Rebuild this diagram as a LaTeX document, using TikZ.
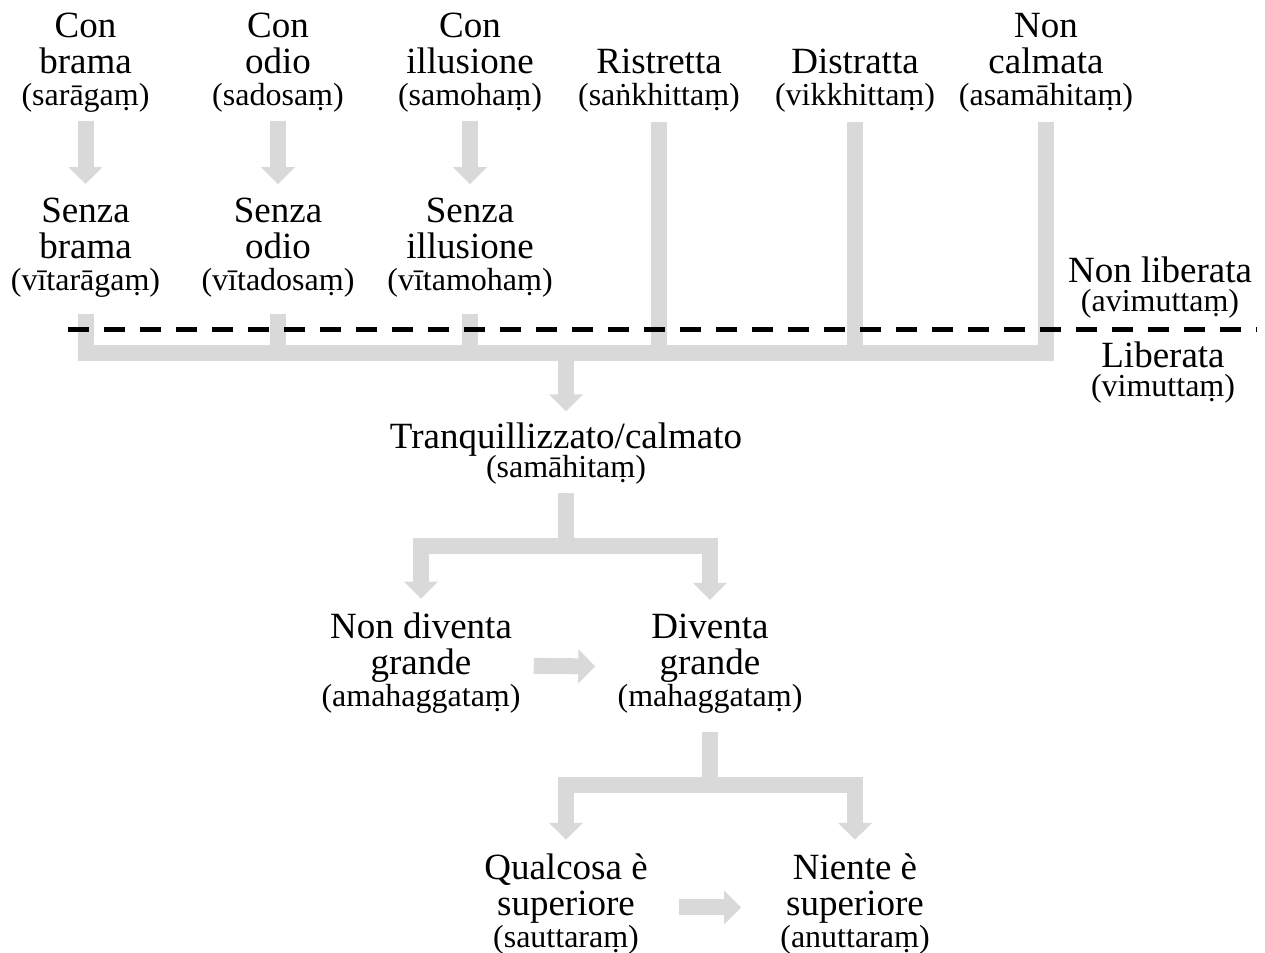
\documentclass[tikz,border=0pt]{standalone}
\usepackage{fontspec}
\setmainfont{Liberation Serif}
\usepackage{tikz}
\usetikzlibrary{arrows.meta}
\definecolor{bandgray}{HTML}{D9D9D9}
\newcommand{\pali}[1]{{\fontsize{24pt}{27pt}\selectfont (#1)}}

\begin{document}
\begin{tikzpicture}[
      x=0.75pt, y=-0.75pt,
      txt/.style={align=center, inner sep=0pt, anchor=south,
                  font=\fontsize{27.75pt}{27pt}\selectfont},
      band/.style={draw=bandgray, line width=12pt},
      arr/.style={band, -{Triangle[width=24.75pt, length=12.75pt]}},
      divider/.style={line width=3.75pt, dash pattern=on 15.75pt off 11.25pt}
    ]
    \useasboundingbox (0,0) rectangle (1265,953);

    % top row
    \node[txt] (conbrama) at (85.5,113) {Con\\brama\\[-3pt]\pali{sarāgaṃ}};
    \node[txt] (conodio) at (278,113) {Con\\odio\\[-3pt]\pali{sadosaṃ}};
    \node[txt] (conill) at (470,113) {Con\\illusione\\[-3pt]\pali{samohaṃ}};
    \node[txt] (ristretta) at (659,113) {Ristretta\\[-3pt]\pali{saṅkhittaṃ}};
    \node[txt] (distratta) at (855,113) {Distratta\\[-3pt]\pali{vikkhittaṃ}};
    \node[txt] (noncalmata) at (1046,113) {Non\\calmata\\[-3pt]\pali{asamāhitaṃ}};

    \node[txt] (senzabrama) at (85.5,297.5) {Senza\\brama\\[-3pt]\pali{vītarāgaṃ}};
    \node[txt] (senzaodio) at (278,297.5) {Senza\\odio\\[-3pt]\pali{vītadosaṃ}};
    \node[txt] (senzaill) at (470,297.5) {Senza\\illusione\\[-3pt]\pali{vītamohaṃ}};

    \node[txt] (nonlib) at (1160,318.5) {Non liberata\\[-5.25pt]\pali{avimuttaṃ}};
    \node[txt] (lib) at (1163,403.5) {Liberata\\[-5.25pt]\pali{vimuttaṃ}};

    \node[txt] (calmato) at (566,484.5) {Tranquillizzato/calmato\\[-5.25pt]\pali{samāhitaṃ}};
    \node[txt] (nondiv) at (421,713.5) {Non diventa\\grande\\[-3pt]\pali{amahaggataṃ}};
    \node[txt] (diventa) at (710,713.5) {Diventa\\grande\\[-3pt]\pali{mahaggataṃ}};
    \node[txt] (qualcosa) at (566,954.5) {Qualcosa è\\superiore\\[-3pt]\pali{sauttaraṃ}};
    \node[txt] (niente) at (855,954.5) {Niente è\\superiore\\[-3pt]\pali{anuttaraṃ}};

    \coordinate (bar1) at ([yshift=52.25pt]calmato.north);
    \coordinate (bar2) at ([yshift=-45.75pt]calmato.south);
    \coordinate (bar3) at ([yshift=-53.75pt]diventa.south);

    % con -> senza
    \draw[arr] ([yshift=-6pt]conbrama.south) -- ([yshift=10.15pt]senzabrama.north);
    \draw[arr] ([yshift=-6pt]conodio.south) -- ([yshift=10.15pt]senzaodio.north);
    \draw[arr] ([yshift=-6pt]conill.south) -- ([yshift=10.15pt]senzaill.north);

    % everything joins into the calm mind
    \draw[band] ([yshift=-12.35pt]senzabrama.south) |- (bar1) -| ([yshift=-6.75pt]noncalmata.south);
    \draw[band] ([yshift=-12.35pt]senzaodio.south) -- (senzaodio.south |- bar1);
    \draw[band] ([yshift=-12.35pt]senzaill.south) -- (senzaill.south |- bar1);
    \draw[band] ([yshift=-6.75pt]ristretta.south) -- (ristretta.south |- bar1);
    \draw[band] ([yshift=-6.75pt]distratta.south) -- (distratta.south |- bar1);
    \draw[arr] (bar1) -- ([yshift=8.25pt]calmato.north);

    \draw[band] ([yshift=-6.35pt]calmato.south) -- (bar2);
    \draw[arr] (bar2) -| ([yshift=10.25pt]nondiv.north);
    \draw[arr] (bar2) -| ([yshift=10.25pt]diventa.north);
    \draw[arr] ([xshift=9.75pt,yshift=-2.2pt]nondiv.east) -- ([xshift=-16.5pt,yshift=-2.2pt]diventa.west);

    \draw[band] ([yshift=-13.75pt]diventa.south) -- (bar3);
    \draw[arr] (bar3) -| ([yshift=10.25pt]qualcosa.north);
    \draw[arr] (bar3) -| ([yshift=10.25pt]niente.north);
    \draw[arr] ([xshift=23.25pt,yshift=-2.6pt]qualcosa.east) -- ([xshift=-29.25pt,yshift=-2.6pt]niente.west);

    % liberata / non liberata
    \draw[divider] (68,329) -- (1257,329);
  \end{tikzpicture}
\end{document}
